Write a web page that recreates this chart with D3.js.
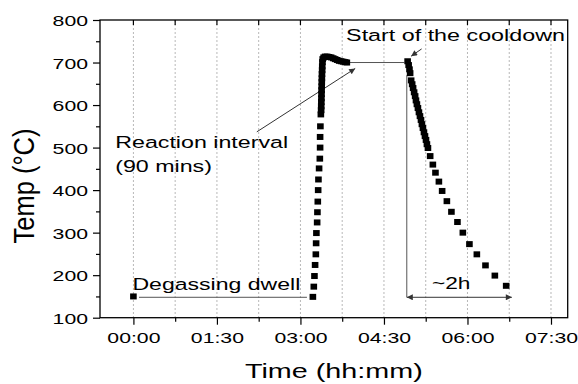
<!DOCTYPE html>
<html>
<head>
<meta charset="utf-8">
<script src="https://cdn.jsdelivr.net/npm/d3@7"></script>
<style>
html, body { margin: 0; padding: 0; background: #fff; }
svg text { font-family: "Liberation Sans", Arial, sans-serif; fill: #000; }
</style>
</head>
<body>
<svg id="chart" width="578" height="384"></svg>
<script>
// time in minutes from the start, temperature in °C
var degasTime = [0];
var degasTemp = [150];

var heatTime = [193.4, 194.4, 195.1, 195.8, 196.6, 196.9, 197.2, 198.0, 198.3, 198.7, 199.1, 199.4,
  200.1, 200.9, 201.2, 201.2, 201.5, 202.0, 202.3, 202.4, 202.5, 202.6, 202.7, 202.8, 202.9, 203.0,
  203.1, 203.2, 203.4, 203.5, 203.7, 204.0, 205.0, 206.6, 208.8, 210.9, 213.1, 215.3, 217.4, 219.6,
  221.7, 223.9, 226.0, 228.2, 230.0];
var heatTemp = [149, 173, 198, 224, 249, 275, 299, 324, 348, 373, 400, 425,
  451, 474, 500, 525, 550, 578, 588, 597, 607, 616, 626, 635, 644, 654,
  663, 673, 682, 691, 701, 708, 712, 714, 714, 713, 712, 710, 708, 706,
  704, 703, 702, 701, 700];

var coolTime = [295.5, 296.6, 297.5, 298.2, 299.3, 300.4, 301.4, 302.5, 303.6, 304.5, 305.5, 306.6,
  307.7, 308.8, 309.9, 310.9, 312.0, 313.1, 314.2, 315.3, 316.3, 317.4, 319.8, 322.7, 325.5, 329.2,
  332.7, 337.8, 342.7, 349.2, 355.0, 362.1, 370.1, 379.4, 389.5, 401.7];
var coolTemp = [703, 694, 684, 675, 658, 649, 640, 630, 621, 611, 602, 593,
  583, 574, 565, 555, 546, 536, 527, 518, 508, 499, 480, 460, 441, 420,
  398, 374, 349, 325, 300, 273, 249, 223, 199, 175];

var xTicks = [0, 90, 180, 270, 360, 450];
var xMinor = [45, 135, 225, 315, 405];
var yTicks = [100, 200, 300, 400, 500, 600, 700, 800];
var yMinor = [150, 250, 350, 450, 550, 650, 750];

var margin = {top: 20, right: 10.3, bottom: 66.3, left: 100},
    W = 578, H = 384,
    width = W - margin.left - margin.right,
    height = H - margin.top - margin.bottom,
    sx = 1.37; // the picture is stretched sideways

var svg = d3.select('#chart');

var x = d3.scaleLinear().domain([-36, 468]).range([margin.left, margin.left + width]);
var y = d3.scaleLinear().domain([100, 800]).range([margin.top + height, margin.top]);

function hhmm(m) {
  var h = Math.floor(m / 60), mm = m % 60;
  return (h < 10 ? '0' : '') + h + ':' + (mm < 10 ? '0' : '') + mm;
}

function label(str, px, py, size, scaleX, anchor, rot) {
  var t = 'translate(' + px + ',' + py + ')';
  t += rot ? ' rotate(-90) scale(1,' + scaleX + ')' : ' scale(' + scaleX + ',1)';
  return svg.append('text')
    .attr('transform', t)
    .attr('text-anchor', anchor || 'start')
    .style('font-size', size + 'px')
    .text(str);
}

// grid
svg.append('g').selectAll('line').data(xTicks.concat(xMinor)).enter().append('line')
  .attr('x1', function (d) { return x(d); }).attr('x2', function (d) { return x(d); })
  .attr('y1', margin.top).attr('y2', margin.top + height)
  .attr('stroke', '#b8b8b8').attr('stroke-width', 1).attr('stroke-dasharray', '2,2');

// arrow heads
var defs = svg.append('defs');
defs.append('marker').attr('id', 'ah').attr('viewBox', '0 0 10 10')
  .attr('refX', 10).attr('refY', 5).attr('markerWidth', 9).attr('markerHeight', 6)
  .attr('markerUnits', 'userSpaceOnUse').attr('orient', 'auto-start-reverse')
  .append('path').attr('d', 'M0,0L10,5L0,10Z').attr('fill', '#333');

// annotation lines
var ann = svg.append('g').attr('stroke', '#555').attr('stroke-width', 1).attr('fill', 'none');
ann.append('line').attr('x1', x(6)).attr('x2', x(187)).attr('y1', y(148)).attr('y2', y(148));
ann.append('line').attr('x1', x(231)).attr('x2', x(292)).attr('y1', y(700)).attr('y2', y(700));
ann.append('line').attr('x1', x(294.6)).attr('x2', x(294.6)).attr('y1', y(670)).attr('y2', y(148));
ann.append('line').attr('x1', x(294.6)).attr('x2', x(407.8)).attr('y1', y(148)).attr('y2', y(148))
  .attr('stroke', '#333').attr('marker-start', 'url(#ah)').attr('marker-end', 'url(#ah)');
ann.append('line').attr('x1', x(133)).attr('y1', y(537)).attr('x2', x(239)).attr('y2', y(686))
  .attr('stroke', '#333').attr('marker-end', 'url(#ah)');
ann.append('line').attr('x1', x(310.6)).attr('y1', y(732)).attr('x2', x(299.3)).attr('y2', y(715))
  .attr('stroke', '#333').attr('marker-end', 'url(#ah)');

// data squares
var pts = [];
degasTime.forEach(function (t, i) { pts.push([t, degasTemp[i]]); });
heatTime.forEach(function (t, i) { pts.push([t, heatTemp[i]]); });
coolTime.forEach(function (t, i) { pts.push([t, coolTemp[i]]); });
svg.append('g').selectAll('rect').data(pts).enter().append('rect')
  .attr('x', function (d) { return x(d[0]) - 3.3; })
  .attr('y', function (d) { return y(d[1]) - 3; })
  .attr('width', 6.6).attr('height', 6).attr('fill', '#000');

// axes
var gx = svg.append('g').attr('transform', 'translate(0,' + (margin.top + height) + ')');
gx.call(d3.axisBottom(x).tickValues(xTicks).tickSize(7).tickFormat(hhmm));
gx.append('g').call(d3.axisBottom(x).tickValues(xMinor).tickSize(4).tickFormat(''));
var gy = svg.append('g').attr('transform', 'translate(' + margin.left + ',0)');
gy.call(d3.axisLeft(y).tickValues(yTicks).tickSize(7));
gy.append('g').call(d3.axisLeft(y).tickValues(yMinor).tickSize(4).tickFormat(''));
svg.selectAll('.domain').remove();
svg.selectAll('.tick line').attr('stroke', '#000').attr('stroke-width', 1.2);

gx.selectAll('.tick text').attr('y', 25.6).attr('dy', 0)
  .attr('transform', 'scale(' + sx + ',1)')
  .style('font-size', '15.5px').attr('font-family', null);
gy.selectAll('.tick text').attr('x', -12 / sx).attr('dy', '0.36em')
  .attr('transform', 'scale(' + sx + ',1)')
  .style('font-size', '15.5px').attr('font-family', null);

// top ticks, pointing in
svg.append('g').selectAll('line').data(xTicks.concat(xMinor)).enter().append('line')
  .attr('x1', function (d) { return x(d); }).attr('x2', function (d) { return x(d); })
  .attr('y1', margin.top).attr('y2', margin.top + 5)
  .attr('stroke', '#000').attr('stroke-width', 1.2);

// frame
svg.append('rect').attr('x', margin.left).attr('y', margin.top)
  .attr('width', width).attr('height', height)
  .attr('fill', 'none').attr('stroke', '#000').attr('stroke-width', 1.3);

// axis titles
label('Time (hh:mm)', (margin.left + margin.left + width) / 2, 378, 21, sx, 'middle');
label('Temp (\u00B0C)', 34.4, 186, 25.5, 1.19, 'middle', true);

// notes
label('Reaction interval', x(-19.6), y(500), 17.2, 1.35, 'start');
label('(90 mins)', x(-19.6), y(443), 17.2, 1.35, 'start');
label('Start of the cooldown', x(229.2), y(751), 17.2, 1.355, 'start');
label('Degassing dwell', x(-1), y(166), 17.2, 1.34, 'start');
label('~2h', x(342.4), y(168.6), 17.2, 1.32, 'middle');
</script>
</body>
</html>
